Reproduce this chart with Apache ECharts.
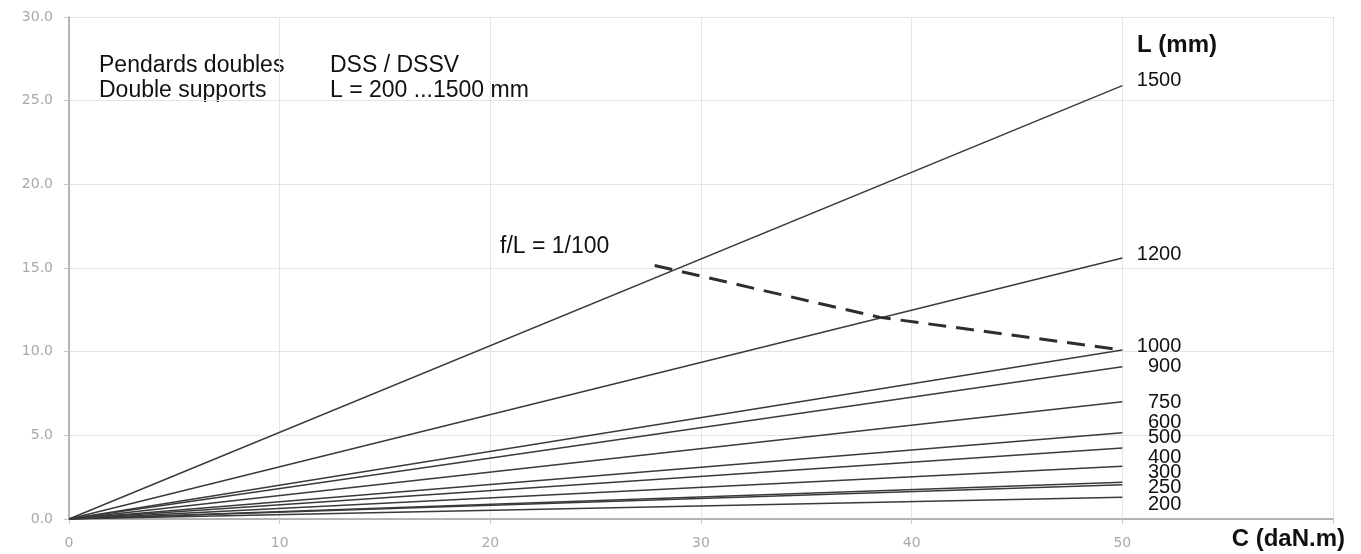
<!DOCTYPE html>
<html>
<head>
<meta charset="utf-8">
<script src="https://cdn.jsdelivr.net/npm/echarts@6/dist/echarts.min.js"></script>
<style>
  html, body { margin: 0; padding: 0; background: #fff; }
  #chart { width: 1361px; height: 554px; }
</style>
</head>
<body>
<div id="chart"></div>
<script>
// support length L (mm) for each curve, and deflection f (mm) read at C = 50 daN.m
const lengths = ['1500', '1200', '1000', '900', '750', '600', '500', '400', '300', '250', '200'];
const deflectionAt50 = [25.9, 15.6, 10.1, 9.1, 7.0, 5.15, 4.25, 3.15, 2.2, 2.05, 1.3];
const couplePoints = [0, 50];

// f/L = 1/100 limit curve
const limitCouple = [27.8, 38.5, 50];
const limitDeflection = [15.15, 12.05, 10.1];

const xTicks = [0, 10, 20, 30, 40, 50];

// vertical nudges for the end labels (stacked labels at the bottom)
const labelDy = [-5, -3, -4, 0, 1, -10, -10, -9, -10, 3, 7];

const chart = echarts.init(document.getElementById('chart'));
const textFont = 'Liberation Sans, Arial, sans-serif';

const lineSeries = lengths.map((name, i) => ({
  name: name,
  type: 'line',
  symbol: 'none',
  silent: true,
  lineStyle: { color: '#3a3a3a', width: 1.5 },
  endLabel: {
    show: true,
    align: 'right',
    distance: 59,
    offset: [0, labelDy[i]],
    formatter: name,
    fontFamily: textFont,
    fontSize: 20,
    color: '#111'
  },
  data: [
    [couplePoints[0], 0],
    [couplePoints[1], deflectionAt50[i]]
  ]
}));

const limitSeries = {
  name: 'f/L = 1/100',
  type: 'line',
  symbol: 'none',
  silent: true,
  lineStyle: { color: '#2e2e2e', width: 3, type: [18, 10] },
  data: limitCouple.map((c, i) => [c, limitDeflection[i]])
};

const option = {
  animation: false,
  grid: { left: 69, right: 28, top: 17, bottom: 35 },
  xAxis: {
    type: 'value',
    min: 0,
    max: 60,
    interval: 10,
    name: 'C (daN.m)',
    nameLocation: 'end',
    nameGap: 12,
    nameTextStyle: {
      fontFamily: textFont,
      fontWeight: 'bold',
      fontSize: 24,
      color: '#111',
      align: 'right',
      verticalAlign: 'top',
      padding: [8, 0, 0, 0]
    },
    axisLine: { lineStyle: { color: '#a0a0a0', width: 1.5 } },
    axisTick: { show: true, length: 5, lineStyle: { color: '#c8c8c8' } },
    axisLabel: {
      margin: 17,
      color: '#a8a8a8',
      fontFamily: 'DejaVu Sans',
      fontSize: 14,
      formatter: v => (xTicks.indexOf(v) >= 0 ? String(v) : '')
    },
    splitLine: { show: true, lineStyle: { color: '#e4e4e4', width: 1 } }
  },
  yAxis: {
    type: 'value',
    min: 0,
    max: 30,
    interval: 5,
    axisLine: { show: true, lineStyle: { color: '#a0a0a0', width: 1.5 } },
    axisTick: { show: true, length: 5, lineStyle: { color: '#c8c8c8' } },
    axisLabel: {
      margin: 16,
      color: '#a8a8a8',
      fontFamily: 'DejaVu Sans',
      fontSize: 14,
      formatter: v => v.toFixed(1)
    },
    splitLine: { show: true, lineStyle: { color: '#e4e4e4', width: 1 } }
  },
  graphic: [
    { type: 'text', left: 99, top: 54, style: { text: 'Pendards doubles', font: '23px ' + textFont, fill: '#111' } },
    { type: 'text', left: 99, top: 79, style: { text: 'Double supports', font: '23px ' + textFont, fill: '#111' } },
    { type: 'text', left: 330, top: 54, style: { text: 'DSS / DSSV', font: '23px ' + textFont, fill: '#111' } },
    { type: 'text', left: 330, top: 79, style: { text: 'L = 200 ...1500 mm', font: '23px ' + textFont, fill: '#111' } },
    { type: 'text', left: 500, top: 235, style: { text: 'f/L = 1/100', font: '23px ' + textFont, fill: '#111' } },
    { type: 'text', left: 1137, top: 33, style: { text: 'L (mm)', font: 'bold 24px ' + textFont, fill: '#111' } }
  ],
  series: lineSeries.concat([limitSeries])
};

chart.setOption(option);
window.addEventListener('resize', () => chart.resize());
</script>
</body>
</html>
